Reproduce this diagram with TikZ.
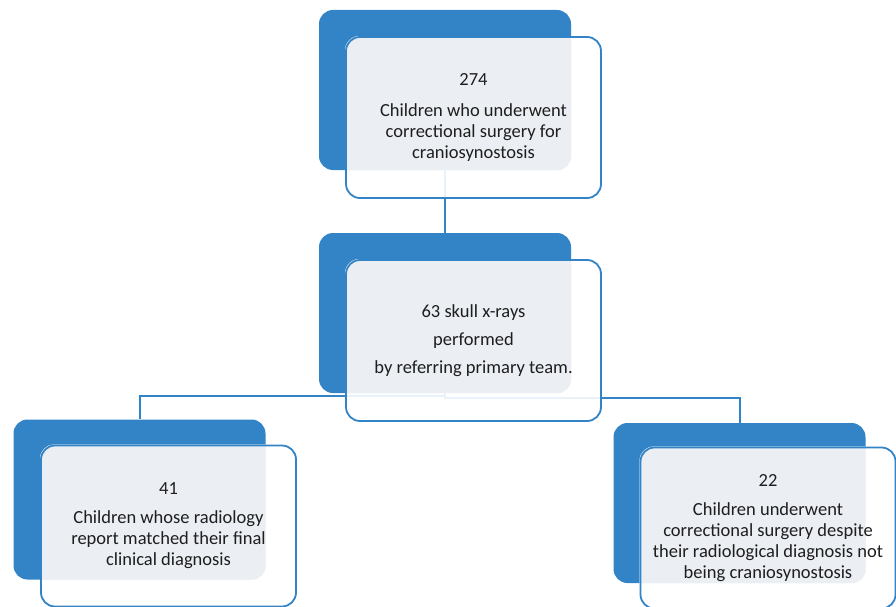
\documentclass[tikz,border=0pt]{standalone}
\usepackage{fontspec}
\setmainfont{Carlito}
\definecolor{boxblue}{RGB}{50,132,198}
\definecolor{overlapgray}{RGB}{235,238,243}
\definecolor{txt}{RGB}{30,30,30}
\pgfdeclarelayer{links}
\pgfdeclarelayer{boxes}
\pgfsetlayers{links,boxes,main}
\tikzset{
  backbox/.style={draw=none, fill=boxblue, rounded corners=14pt, minimum width=252pt, minimum height=160pt, inner sep=0pt},
  frontbox/.style={draw=boxblue, line width=1.8pt, rounded corners=14pt, minimum width=255pt, minimum height=161pt, inner sep=0pt, text=txt, align=center, font=\fontsize{18.5}{21}\selectfont},
  frontfill/.style={fill=white, fill opacity=0.9, rounded corners=14pt},
  overlapfill/.style={fill=overlapgray, rounded corners=14pt},
  link/.style={draw=boxblue, line width=2pt}
}
\newcommand{\overlapbox}[2]{%
  \fill[frontfill] (#2.north west) rectangle (#2.south east);
  \begin{scope}
    \clip[rounded corners=14pt] (#1.north west) rectangle (#1.south east);
    \fill[overlapfill] (#2.north west) rectangle (#2.south east);
  \end{scope}}
\begin{document}
\begin{tikzpicture}[x=1pt,y=-1pt]
\useasboundingbox (0,0) rectangle (896,607);
% front boxes (outline and text)
\node[frontbox] (f1) at (473.5,117.5) {274\\[10pt]Children who underwent\\correctional surgery for\\craniosynostosis};
\node[frontbox, font=\fontsize{18.5}{28}\selectfont] (f2) at (473.5,340.5) {63 skull x-rays\\performed\\by referring primary team.};
\node[frontbox] (f3) at (168.5,526) {41\\[8pt]Children whose radiology\\report matched their final\\clinical diagnosis};
\node[frontbox] (f4) at (768,528) {22\\[8pt]Children underwent\\correctional surgery despite\\their radiological diagnosis not\\being craniosynostosis};
% back boxes
\begin{pgfonlayer}{boxes}
\node[backbox] (b1) at (445,90) {};
\node[backbox] (b2) at (445,313) {};
\node[backbox] (b3) at (139.5,499.5) {};
\node[backbox] (b4) at (739.5,503) {};
\overlapbox{b1}{f1}
\overlapbox{b2}{f2}
\overlapbox{b3}{f3}
\overlapbox{b4}{f4}
\end{pgfonlayer}
% connectors
\begin{pgfonlayer}{links}
\coordinate (jl) at ([yshift=-3pt]b2.south);
\coordinate (jr) at ([yshift=-5pt]b2.south);
\draw[link] (b1.south) -- (b2.north);
\draw[link] (b2.south) -- (jl) -| (b3.north);
\draw[link] (b2.south) -- (jr) -| (b4.north);
\end{pgfonlayer}
\end{tikzpicture}
\end{document}
